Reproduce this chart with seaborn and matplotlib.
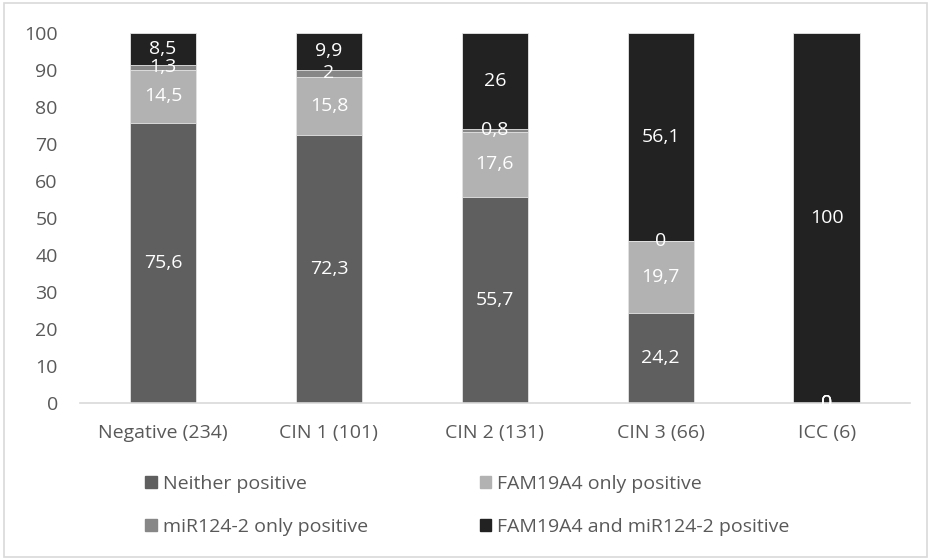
import matplotlib
matplotlib.use("Agg")
import matplotlib.pyplot as plt
import matplotlib.patches as mpatches
import numpy as np
import pandas as pd
import seaborn as sns

# Share of cases by methylation result, per histology group (%)
categories = ["Negative (234)", "CIN 1 (101)", "CIN 2 (131)", "CIN 3 (66)", "ICC (6)"]
series_names = ["Neither positive", "FAM19A4 only positive",
                "miR124-2 only positive", "FAM19A4 and miR124-2 positive"]
neither = [75.6, 72.3, 55.7, 24.2, 0]
fam_only = [14.5, 15.8, 17.6, 19.7, 0]
mir_only = [1.3, 2, 0.8, 0, 0]
both = [8.5, 9.9, 26, 56.1, 100]
colors = ["#5f5f5f", "#b2b2b2", "#878787", "#222222"]

sns.set_theme(style="white")
plt.rcParams["font.family"] = ["Open Sans", "DejaVu Sans"]

df = pd.DataFrame({"group": categories, "s0": neither, "s1": fam_only,
                   "s2": mir_only, "s3": both})
series = [df["s0"].values, df["s1"].values, df["s2"].values, df["s3"].values]
cums = np.cumsum(np.vstack(series), axis=0)

fig = plt.figure(figsize=(9.31, 5.59), dpi=100)
ax = fig.add_axes([0.086, 0.279, 0.891, 0.662])

# Stack by overlaying cumulative totals, tallest first
for i in range(3, -1, -1):
    sns.barplot(x=categories, y=cums[i], color=colors[i], ax=ax, width=0.4,
                edgecolor="#e6e6e6", linewidth=0.6, saturation=1)

# Value labels centred in each segment
fmt = lambda v: (f"{v:g}").replace(".", ",")
for i in range(4):
    bottoms = cums[i] - series[i]
    for j, v in enumerate(series[i]):
        ax.text(j, bottoms[j] + v / 2, fmt(v), ha="center", va="center",
                color="white", fontsize=14)

ax.set_ylim(0, 100)
ax.set_yticks(range(0, 101, 10))
ax.set_xlim(-0.5, 4.5)
for s in ["top", "right", "left"]:
    ax.spines[s].set_visible(False)
ax.spines["bottom"].set_color("#d9d9d9")
ax.spines["bottom"].set_linewidth(1.2)
ax.tick_params(axis="both", length=0, labelsize=14, colors="#595959")
ax.tick_params(axis="y", pad=16)
ax.tick_params(axis="x", pad=15)
ax.set_xlabel("")
ax.set_ylabel("")

handles = [mpatches.Patch(color=colors[k], label=series_names[k]) for k in [0, 2, 1, 3]]
fig.legend(handles=handles, ncol=2, loc="center left",
           bbox_to_anchor=(0.156, 0.096), frameon=False, fontsize=14,
           handlelength=0.6, handleheight=0.6, handletextpad=0.3,
           labelspacing=1.3, columnspacing=5.75, labelcolor="#595959",
           borderpad=0, borderaxespad=0)

fig.patches.append(mpatches.Rectangle((0.004, 0.004), 0.992, 0.99,
                                      transform=fig.transFigure, fill=False,
                                      edgecolor="#d9d9d9", linewidth=1.2))

fig.savefig("out.png", dpi=100)
